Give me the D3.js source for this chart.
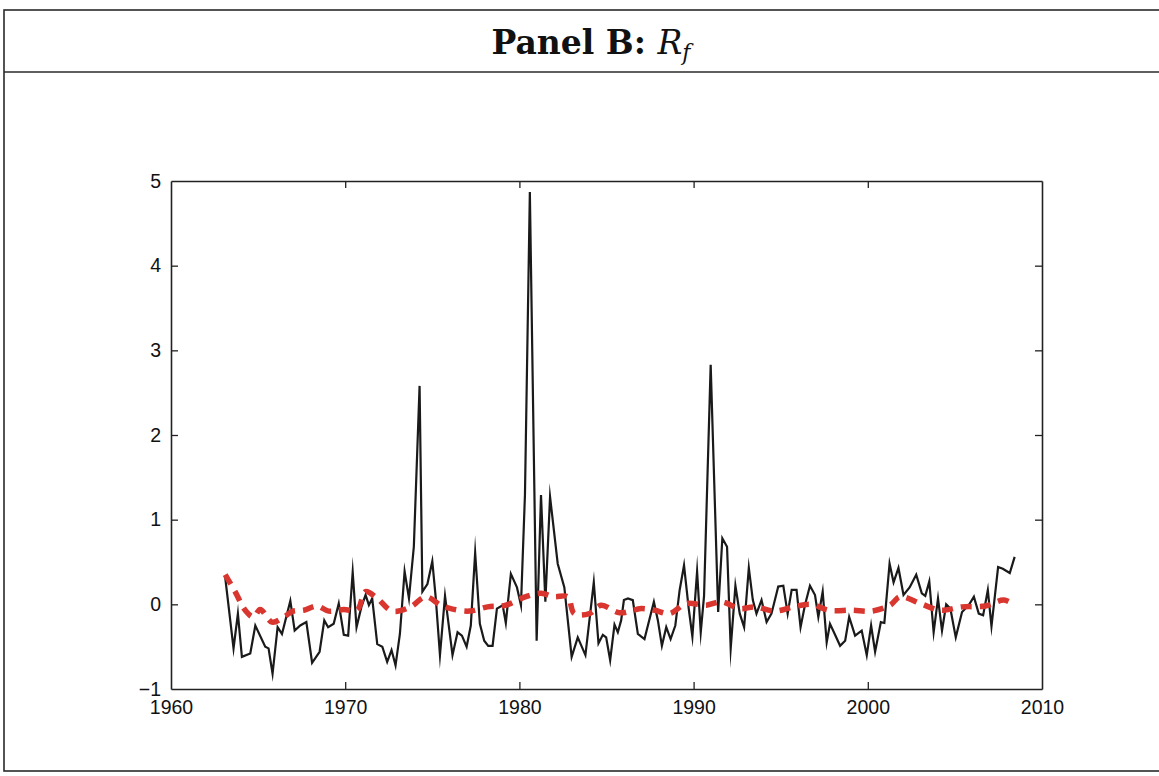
<!DOCTYPE html>
<html>
<head>
<meta charset="utf-8">
<script src="https://cdn.jsdelivr.net/npm/d3@7"></script>
<style>
  html, body { margin: 0; padding: 0; background: #fff; }
  svg { display: block; }
</style>
</head>
<body>
<svg id="chart" width="1159" height="776"></svg>
<script>
// ---- data ----
const rfYears = [
  1963.11, 1963.59, 1963.84, 1964.07, 1964.55, 1964.84, 1965.41, 1965.60, 1965.83, 1966.12,
  1966.37, 1966.85, 1967.10, 1967.42, 1967.77, 1968.10, 1968.53, 1968.80, 1969.02, 1969.34,
  1969.63, 1969.92, 1970.17, 1970.43, 1970.65, 1970.93, 1971.17, 1971.36, 1971.55, 1971.84,
  1972.13, 1972.41, 1972.66, 1972.89, 1973.14, 1973.41, 1973.66, 1973.94, 1974.27, 1974.43,
  1974.72, 1975.00, 1975.20, 1975.44, 1975.73, 1976.16, 1976.45, 1976.70, 1976.97, 1977.21,
  1977.46, 1977.73, 1977.98, 1978.21, 1978.46, 1978.71, 1979.04, 1979.22, 1979.51, 1979.86,
  1980.09, 1980.32, 1980.60, 1980.99, 1981.24, 1981.49, 1981.76, 1982.20, 1982.58, 1983.00,
  1983.35, 1983.79, 1984.27, 1984.54, 1984.79, 1984.98, 1985.21, 1985.46, 1985.65, 1985.84,
  1986.00, 1986.23, 1986.51, 1986.80, 1987.18, 1987.72, 1987.95, 1988.18, 1988.43, 1988.68,
  1988.95, 1989.20, 1989.45, 1989.72, 1989.93, 1990.20, 1990.41, 1990.60, 1990.98, 1991.41,
  1991.65, 1991.92, 1992.13, 1992.40, 1992.65, 1992.90, 1993.17, 1993.40, 1993.61, 1993.90,
  1994.19, 1994.47, 1994.86, 1995.15, 1995.40, 1995.63, 1995.91, 1996.14, 1996.39, 1996.68,
  1996.97, 1997.16, 1997.41, 1997.64, 1997.83, 1998.10, 1998.41, 1998.70, 1998.93, 1999.27,
  1999.65, 1999.94, 2000.19, 2000.42, 2000.75, 2000.95, 2001.25, 2001.48, 2001.76, 2002.05,
  2002.40, 2002.78, 2003.10, 2003.30, 2003.53, 2003.78, 2004.03, 2004.26, 2004.50, 2004.74,
  2005.05, 2005.41, 2005.80, 2006.09, 2006.37, 2006.62, 2006.89, 2007.10, 2007.48, 2007.75,
  2008.15, 2008.43
];
const rfValues = [
  0.32, -0.52, -0.11, -0.62, -0.58, -0.25, -0.50, -0.52, -0.82, -0.27,
  -0.35, 0.04, -0.31, -0.25, -0.21, -0.69, -0.56, -0.19, -0.27, -0.23,
  0.01, -0.36, -0.37, 0.38, -0.27, -0.03, 0.11, -0.01, 0.07, -0.47,
  -0.50, -0.68, -0.54, -0.72, -0.35, 0.39, 0.07, 0.68, 2.58, 0.15,
  0.24, 0.51, 0.07, -0.60, 0.10, -0.60, -0.33, -0.37, -0.50, -0.25,
  0.61, -0.23, -0.43, -0.49, -0.49, -0.05, -0.01, -0.22, 0.36, 0.20,
  -0.01, 1.30, 4.87, -0.43, 1.29, 0.03, 1.27, 0.48, 0.20, -0.62,
  -0.39, -0.60, 0.26, -0.46, -0.36, -0.39, -0.66, -0.24, -0.33, -0.19,
  0.05, 0.07, 0.05, -0.35, -0.41, 0.03, -0.19, -0.49, -0.27, -0.41,
  -0.25, 0.17, 0.46, -0.05, -0.38, 0.39, -0.33, 0.10, 2.83, -0.09,
  0.78, 0.68, -0.52, 0.22, -0.11, -0.27, 0.43, 0.05, -0.11, 0.05,
  -0.21, -0.11, 0.21, 0.22, -0.11, 0.17, 0.17, -0.27, -0.01, 0.22,
  0.11, -0.15, 0.15, -0.45, -0.23, -0.35, -0.49, -0.43, -0.15, -0.37,
  -0.31, -0.60, -0.25, -0.56, -0.21, -0.22, 0.48, 0.26, 0.43, 0.11,
  0.20, 0.35, 0.13, 0.10, 0.27, -0.33, 0.07, -0.31, 0.00, -0.05,
  -0.39, -0.09, -0.01, 0.09, -0.11, -0.13, 0.17, -0.26, 0.44, 0.42,
  0.37, 0.56
];
const fitYears = [
  1963.11, 1963.68, 1964.26, 1964.74, 1965.12, 1965.80, 1966.47, 1967.00, 1967.62, 1968.38,
  1969.05, 1969.92, 1970.68, 1971.17, 1971.84, 1972.70, 1973.76, 1974.62, 1975.48, 1976.06,
  1977.11, 1978.17, 1979.22, 1980.37, 1981.24, 1982.00, 1982.77, 1983.15, 1984.02, 1984.69,
  1985.75, 1986.99, 1987.76, 1988.62, 1989.58, 1990.73, 1991.60, 1992.65, 1993.51, 1994.66,
  1995.72, 1996.77, 1997.74, 1999.08, 2000.23, 2001.28, 2001.86, 2003.01, 2004.16, 2005.41,
  2006.75, 2007.81, 2008.43
];
const fitValues = [
  0.35, 0.15, -0.07, -0.15, -0.06, -0.21, -0.15, -0.08, -0.07, -0.02,
  -0.08, -0.06, -0.07, 0.15, 0.07, -0.08, -0.03, 0.09, -0.01, -0.05,
  -0.08, -0.03, -0.01, 0.09, 0.13, 0.09, 0.09, -0.11, -0.11, -0.01,
  -0.10, -0.05, -0.07, -0.11, 0.01, -0.01, 0.03, -0.05, -0.03, -0.08,
  -0.03, 0.00, -0.07, -0.07, -0.08, -0.01, 0.09, 0.01, -0.07, -0.03,
  -0.02, 0.05, -0.01
];
const xTicks = [1960, 1970, 1980, 1990, 2000, 2010];
const yTicks = [-1, 0, 1, 2, 3, 4, 5];
const titleMain = "Panel B: ";
const titleSym = "R";
const titleSub = "f";

// ---- drawing ----
const svg = d3.select("#chart");
const W = 1159, H = 776;

// outer frame + header separator
svg.append("rect").attr("x", 4).attr("y", 10).attr("width", W + 10).attr("height", 761)
  .attr("fill", "none").attr("stroke", "#2a2a2a").attr("stroke-width", 1.6);
svg.append("line").attr("x1", 4).attr("x2", W).attr("y1", 72).attr("y2", 72)
  .attr("stroke", "#2a2a2a").attr("stroke-width", 1.6);

// title
const title = svg.append("text").attr("x", 591).attr("y", 54)
  .attr("text-anchor", "middle")
  .attr("font-family", "'DejaVu Serif', 'Liberation Serif', serif")
  .attr("font-size", 33).attr("fill", "#111");
title.append("tspan").attr("font-weight", "bold").text(titleMain);
title.append("tspan").attr("font-style", "italic").text(titleSym);
title.append("tspan").attr("font-style", "italic").attr("font-size", 22).attr("dy", 6).text(titleSub);

const x = d3.scaleLinear().domain([1960, 2010]).range([171, 1042]);
const y = d3.scaleLinear().domain([-1, 5]).range([689, 181]);

const tickFont = "'Liberation Sans', Arial, sans-serif";

// axes (MATLAB-style box with inward ticks)
const gB = svg.append("g").attr("transform", `translate(0,${y(-1)})`)
  .call(d3.axisBottom(x).tickValues(xTicks).tickFormat(d3.format("d")).tickSizeInner(-7).tickSizeOuter(0).tickPadding(11));
const gT = svg.append("g").attr("transform", `translate(0,${y(5)})`)
  .call(d3.axisTop(x).tickValues(xTicks).tickFormat("").tickSizeInner(-7).tickSizeOuter(0));
const gL = svg.append("g").attr("transform", `translate(${x(1960)},0)`)
  .call(d3.axisLeft(y).tickValues(yTicks).tickFormat(d => d < 0 ? "\u2212" + Math.abs(d) : d).tickSizeInner(-7).tickSizeOuter(0).tickPadding(10));
const gR = svg.append("g").attr("transform", `translate(${x(2010)},0)`)
  .call(d3.axisRight(y).tickValues(yTicks).tickFormat("").tickSizeInner(-7).tickSizeOuter(0));

[gB, gT, gL, gR].forEach(g => {
  g.select(".domain").attr("stroke", "#222").attr("stroke-width", 1.6);
  g.selectAll(".tick line").attr("stroke", "#222").attr("stroke-width", 1.3);
  g.selectAll(".tick text").attr("font-family", tickFont).attr("font-size", 19.5).attr("fill", "#111");
});
// hide edge ticks that coincide with box corners
gB.selectAll(".tick line").filter(d => d === 1960 || d === 2010).remove();
gT.selectAll(".tick line").filter(d => d === 1960 || d === 2010).remove();
gL.selectAll(".tick line").filter(d => d === -1 || d === 5).remove();
gR.selectAll(".tick line").filter(d => d === -1 || d === 5).remove();

// series
const rfData = rfYears.map((t, i) => [t, rfValues[i]]);
const fitData = fitYears.map((t, i) => [t, fitValues[i]]);

svg.append("path").datum(rfData)
  .attr("fill", "none").attr("stroke", "#1a1a1a").attr("stroke-width", 2.2)
  .attr("stroke-linejoin", "miter").attr("stroke-miterlimit", 20)
  .attr("d", d3.line().x(d => x(d[0])).y(d => y(d[1])));

svg.append("path").datum(fitData)
  .attr("fill", "none").attr("stroke", "#d8362e").attr("stroke-width", 5.5)
  .attr("stroke-dasharray", "11,8")
  .attr("d", d3.line().curve(d3.curveCatmullRom).x(d => x(d[0])).y(d => y(d[1])));
</script>
</body>
</html>
